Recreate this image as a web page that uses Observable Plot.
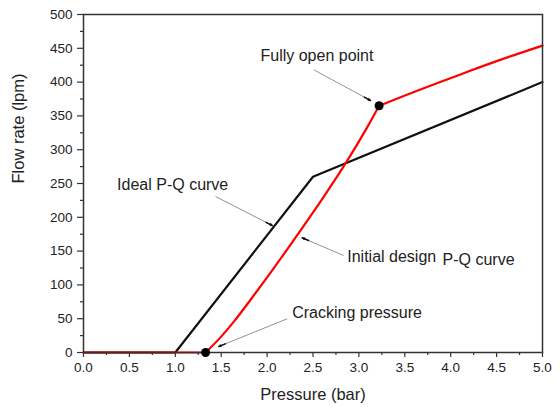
<!DOCTYPE html>
<html><head><meta charset="utf-8">
<script src="https://cdn.jsdelivr.net/npm/d3@7"></script>
<script src="https://cdn.jsdelivr.net/npm/@observablehq/plot@0.6"></script>
<style>body{margin:0;background:#fff}</style>
</head><body><div id="chart"></div>
<script>
// Ideal P-Q curve (black)
const idealP = [0, 1.0, 2.5, 5.0];
const idealQ = [0, 0, 260, 400];
// Initial design P-Q curve (red)
const designP = [0, 1.33, 1.49, 1.64, 1.82, 2.0, 2.18, 2.33, 2.62, 2.87, 3.09, 3.22, 3.6, 4.1, 4.5, 5.0];
const designQ = [0, 0, 22, 46, 78, 111, 145, 174, 231, 283, 333, 365, 385.5, 411, 431, 454];
// marked points: cracking pressure, fully open point
const pointP = [1.33, 3.22];
const pointQ = [0, 365];
// ticks
const xTicks = [0, 0.5, 1.0, 1.5, 2.0, 2.5, 3.0, 3.5, 4.0, 4.5, 5.0];
const xMinor = [0.25, 0.75, 1.25, 1.75, 2.25, 2.75, 3.25, 3.75, 4.25, 4.75];
const yTicks = [0, 50, 100, 150, 200, 250, 300, 350, 400, 450, 500];
const yMinor = [25, 75, 125, 175, 225, 275, 325, 375, 425, 475];
// annotations (text in data space)
const labelText = ["Ideal P-Q curve", "Fully open point", "Initial design", "P-Q curve", "Cracking pressure"];
const labelP = [0.366, 1.928, 2.873, 3.911, 2.273];
const labelQ = [248.5, 439.3, 141, 137.6, 59.2];
// annotation arrows (start -> tip)
const arrowP1 = [1.438, 2.509, 2.832, 2.219];
const arrowQ1 = [230.8, 418.2, 143.5, 49.9];
const arrowP2 = [2.056, 3.126, 2.382, 1.474];
const arrowQ2 = [187.9, 372.8, 169.7, 8.9];

const W = 560, H = 407, mL = 83, mR = 18, mT = 14, mB = 55;
const kx = (W - mL - mR) / 5, ky = (H - mT - mB) / 500;

const ideal = idealP.map((p, i) => ({p, q: idealQ[i]}));
// split the red curve into segments at the marked points (sharp corners there)
const design = [];
designP.forEach((p, i) => {
  const seg = p <= pointP[0] ? 0 : p <= pointP[1] ? 1 : 2;
  design.push({p, q: designQ[i], seg});
  if (p === pointP[0] || p === pointP[1]) design.push({p, q: designQ[i], seg: seg + 1});
});
const points = pointP.map((p, i) => ({p, q: pointQ[i]}));
const labels = labelText.map((t, i) => ({t, p: labelP[i], q: labelQ[i]}));
const arrows = arrowP1.map((p1, i) => {
  const p2 = arrowP2[i], q1 = arrowQ1[i], q2 = arrowQ2[i];
  const dxp = (p2 - p1) * kx, dyp = (q2 - q1) * ky;
  const len = Math.hypot(dxp, dyp);
  const h = 7;
  return {p1, q1, p2, q2, hp: p2 - (dxp / len) * h / kx, hq: q2 - (dyp / len) * h / ky};
});

const font = "Arial, 'Liberation Sans', sans-serif";
const chart = Plot.plot({
  width: W, height: H,
  marginLeft: mL, marginRight: mR, marginTop: mT, marginBottom: mB,
  x: {domain: [0, 5]},
  y: {domain: [0, 500]},
  style: {fontFamily: font, background: "white", color: "#222"},
  marks: [
    Plot.axisX(xTicks, {tickSize: 5, tickPadding: 5, tickFormat: d => d.toFixed(1), fontSize: 13.5, label: null, stroke: "#333", strokeWidth: 1.2, fill: "#222"}),
    Plot.axisX(xMinor, {tickSize: 3, tickFormat: () => "", label: null, stroke: "#333", strokeWidth: 1.2}),
    Plot.axisY(yTicks, {tickSize: 6, tickPadding: 5, tickFormat: d => String(d), fontSize: 13.5, label: null, stroke: "#333", strokeWidth: 1.2, fill: "#222"}),
    Plot.axisY(yMinor, {tickSize: 3, tickFormat: () => "", label: null, stroke: "#333", strokeWidth: 1.2}),
    Plot.text(["Pressure (bar)"], {frameAnchor: "bottom", dy: 47, fontSize: 16.5, fill: "#222"}),
    Plot.text(["Flow rate (lpm)"], {frameAnchor: "left", dx: -65, rotate: -90, fontSize: 16.5, fill: "#222"}),
    Plot.line(ideal, {x: "p", y: "q", stroke: "#111", strokeWidth: 2.2}),
    Plot.line(design, {x: "p", y: "q", z: "seg", stroke: "#ff0000", strokeWidth: 2.2, curve: "catmull-rom"}),
    Plot.frame({stroke: "#333", strokeWidth: 1.5}),
    Plot.dot(points, {x: "p", y: "q", r: 4.5, fill: "#000"}),
    Plot.link(arrows, {x1: "p1", y1: "q1", x2: "p2", y2: "q2", stroke: "#777", strokeWidth: 0.8}),
    Plot.arrow(arrows, {x1: "hp", y1: "hq", x2: "p2", y2: "q2", stroke: "#111", strokeWidth: 1.5, headLength: 7, headAngle: 30}),
    Plot.text(labels, {x: "p", y: "q", text: "t", textAnchor: "start", lineAnchor: "middle", fontSize: 16, fill: "#222"})
  ]
});
document.getElementById("chart").appendChild(chart);
</script>
</body></html>
